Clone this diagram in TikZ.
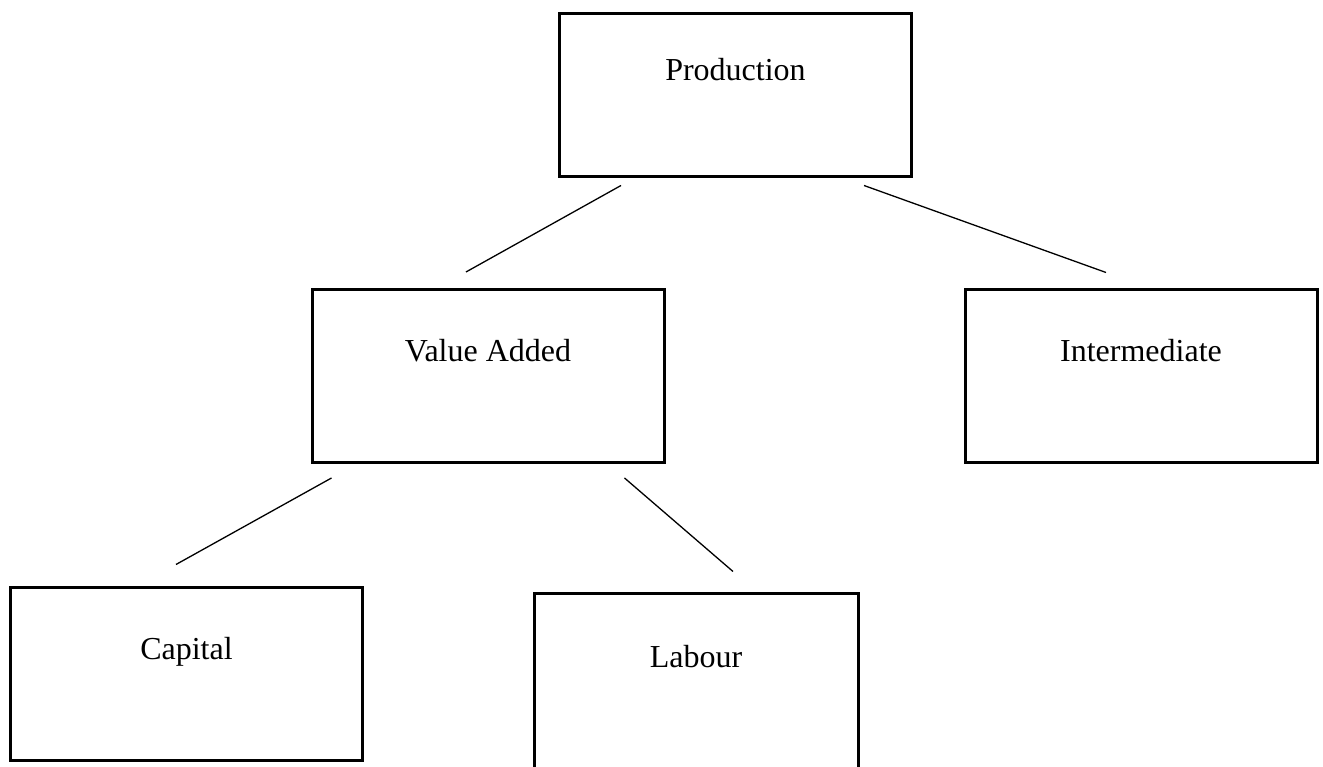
\documentclass[tikz,border=0pt]{standalone}
\usepackage{fontspec}
\setmainfont{Liberation Serif}
\usepackage{tikz}

\begin{document}
\begin{tikzpicture}[
  x=1pt, y=1pt,
  box/.style={draw, line width=3pt, minimum width=352pt,
    minimum height=173pt, inner sep=0pt},
  lbl/.style={anchor=base, inner sep=0pt, font=\fontsize{32}{38}\selectfont},
  link/.style={line width=1.3pt}
]
  \clip (0,0) rectangle (1323,767);

  \node[box, minimum height=163pt] (prod) at (735.5,671.5) {};
  \node[box] (va)    at (488,391)    {};
  \node[box] (inter) at (1141,390.5) {};
  \node[box] (cap)   at (186.5,92.5) {};
  \node[box, minimum width=324pt, minimum height=186pt] (lab) at (696,80) {};

  \node[lbl] (prodtxt)  at ([yshift=-68pt]prod.north)  {Production};
  \node[lbl] (vatxt)    at ([yshift=-74pt]va.north)    {Value Added};
  \node[lbl] (intertxt) at ([yshift=-73pt]inter.north) {Intermediate};
  \node[lbl] (captxt)   at ([yshift=-73pt]cap.north)   {Capital};
  \node[lbl] (labtxt)   at ([yshift=-75pt]lab.north)   {Labour};

  \coordinate (pva)   at ([shift={(63,-7)}]prod.south west);
  \coordinate (vap)   at ([shift={(-22,16)}]va.north);
  \coordinate (pint)  at ([shift={(-49,-7)}]prod.south east);
  \coordinate (intp)  at ([shift={(-35,16)}]inter.north);
  \coordinate (vacap) at ([shift={(21,-14)}]va.south west);
  \coordinate (capva) at ([shift={(-10.5,22)}]cap.north);
  \coordinate (valab) at ([shift={(-41,-14)}]va.south east);
  \coordinate (labva) at ([shift={(37,21)}]lab.north);

  \draw[link] (pva) -- (vap);
  \draw[link] (pint) -- (intp);
  \draw[link] (vacap) -- (capva);
  \draw[link] (valab) -- (labva);
\end{tikzpicture}
\end{document}
